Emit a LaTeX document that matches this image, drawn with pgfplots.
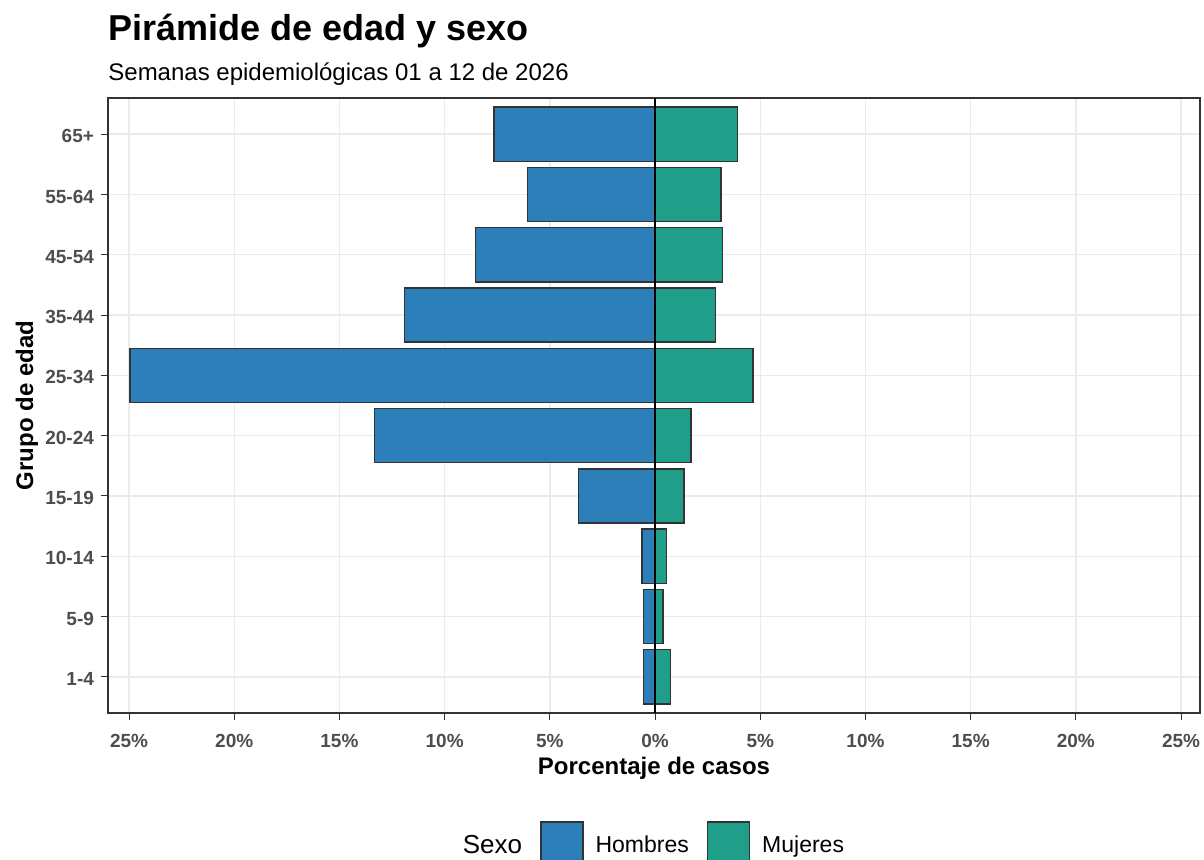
\documentclass[border=0pt]{standalone}
\usepackage{fontspec}
\setmainfont{Liberation Sans}
\usepackage{pgfplots}
\pgfplotsset{compat=1.18}
\definecolor{hombres}{HTML}{2C7FB8}
\definecolor{mujeres}{HTML}{1F9E89}
\definecolor{borde}{HTML}{333333}
\definecolor{rejilla}{HTML}{EBEBEB}
\definecolor{ticktxt}{HTML}{4D4D4D}
\pgfplotsset{llave/.style={legend image code/.code={\draw[##1] (0pt,-9pt) rectangle (21pt,12pt);}}}

\begin{document}
\begin{tikzpicture}
\begin{axis}[
  at={(54pt,73pt)}, anchor=south west,
  scale only axis, width=546pt, height=307.5pt,
  xmin=-26, xmax=25.9, ymin=0.4, ymax=10.6,
  xtick={-25,-20,...,25},
  xticklabels={25\%,20\%,15\%,10\%,5\%,0\%,5\%,10\%,15\%,20\%,25\%},
  ytick={1,...,10},
  yticklabels={1-4,5-9,10-14,15-19,20-24,25-34,35-44,45-54,55-64,65+},
  xtick pos=lower, ytick pos=left,
  tick align=outside, major tick length=3.5pt,
  tick style={borde, line width=0.5pt},
  ticklabel style={font=\bfseries\fontsize{9.5}{11}\selectfont, text=ticktxt},
  xticklabel style={yshift=-3.5pt},
  yticklabel style={yshift=-1pt},
  grid=major, grid style={rejilla, line width=0.7pt},
  axis line style={borde, line width=0.6pt},
  xlabel={Porcentaje de casos}, ylabel={Grupo de edad},
  label style={font=\bfseries\fontsize{12}{14}\selectfont},
  xlabel style={at={(axis description cs:0.5,-0.1)}, anchor=base},
  ylabel style={at={(axis description cs:-0.0742,0.5)}, anchor=center},
  bar width=0.9, bar shift=0pt,
  legend style={at={(axis description cs:0.494,-0.1756)}, anchor=north,
    draw=none, fill=none, inner sep=0pt, legend columns=-1,
    nodes={inner sep=0pt, font=\fontsize{11.5}{13}\selectfont},
    /tikz/every odd column/.append style={column sep=6pt},
    /tikz/every even column/.append style={column sep=9pt}},
]
\addlegendimage{empty legend}
\addlegendentry{\fontsize{13}{15}\selectfont Sexo}

\addplot[xbar, llave, fill=hombres, draw=borde, line width=0.7pt] coordinates {
  (-0.54,1) (-0.54,2) (-0.63,3) (-3.63,4) (-13.33,5)
  (-24.95,6) (-11.90,7) (-8.54,8) (-6.06,9) (-7.65,10)
};
\addlegendentry{Hombres}

\addplot[xbar, llave, fill=mujeres, draw=borde, line width=0.7pt] coordinates {
  (0.74,1) (0.37,2) (0.55,3) (1.37,4) (1.70,5)
  (4.65,6) (2.87,7) (3.21,8) (3.13,9) (3.93,10)
};
\addlegendentry{Mujeres}

\addplot[black, line width=0.75pt, forget plot] coordinates {(0,0.4) (0,10.6)};
\end{axis}
\node[anchor=base west, inner sep=0pt, font=\bfseries\fontsize{18}{21}\selectfont] at (54pt,409pt) {Pirámide de edad y sexo};
\node[anchor=base west, inner sep=0pt, font=\fontsize{12}{14}\selectfont] at (54pt,389pt) {Semanas epidemiológicas 01 a 12 de 2026};
\pgfresetboundingbox
\path[use as bounding box] (0,0) rectangle (602pt,429.5pt);
\end{tikzpicture}
\end{document}
